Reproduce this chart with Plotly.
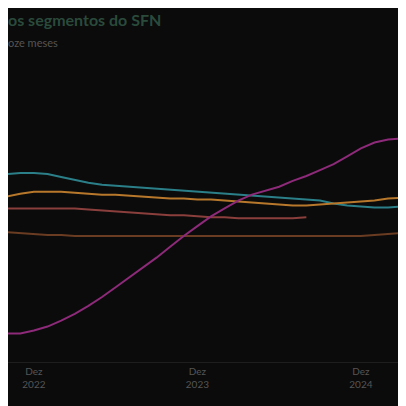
import plotly.graph_objects as go

meses = ["Out 2022","Nov 2022","Dez 2022","Jan 2023","Fev 2023","Mar 2023","Abr 2023","Mai 2023","Jun 2023","Jul 2023","Ago 2023","Set 2023","Out 2023","Nov 2023","Dez 2023","Jan 2024","Fev 2024","Mar 2024","Abr 2024","Mai 2024","Jun 2024","Jul 2024","Ago 2024","Set 2024","Out 2024","Nov 2024","Dez 2024","Jan 2025","Fev 2025","Mar 2025","Abr 2025"]
tick_vals = ["Dez 2022","Dez 2023","Dez 2024"]
tick_text = ["Dez<br>2022","Dez<br>2023","Dez<br>2024"]

teal = [19.1,19.2,19.2,19.1,18.8,18.5,18.2,18.0,17.9,17.8,17.7,17.6,17.5,17.4,17.3,17.2,17.1,17.0,16.9,16.8,16.7,16.6,16.5,16.4,16.1,15.9,15.8,15.7,15.7,15.8,15.8]
orange = [16.8,17.1,17.3,17.3,17.3,17.2,17.1,17.0,17.0,16.9,16.8,16.7,16.6,16.6,16.5,16.5,16.4,16.3,16.2,16.1,16.0,15.9,15.9,16.0,16.1,16.2,16.3,16.4,16.6,16.7,16.8]
salmon = [15.6,15.6,15.6,15.6,15.6,15.6,15.5,15.4,15.3,15.2,15.1,15.0,14.9,14.9,14.8,14.7,14.7,14.6,14.6,14.6,14.6,14.6,14.7]
brown = [13.2,13.1,13.0,12.9,12.9,12.8,12.8,12.8,12.8,12.8,12.8,12.8,12.8,12.8,12.8,12.8,12.8,12.8,12.8,12.8,12.8,12.8,12.8,12.8,12.8,12.8,12.8,12.9,13.0,13.1,13.2]
magenta = [2.9,2.9,3.2,3.6,4.2,4.9,5.7,6.6,7.6,8.6,9.6,10.6,11.7,12.8,13.8,14.8,15.6,16.4,17.0,17.4,17.8,18.4,18.9,19.5,20.1,20.9,21.7,22.3,22.6,22.7,22.6]

fig = go.Figure()
series = [("Bancos", teal, "#2b7f88"), ("Cooperativas", orange, "#b8782c"),
          ("Financeiras", salmon, "#8a3f3c"), ("Outros", brown, "#6a3c22"),
          ("Fintechs", magenta, "#8d2a79")]
for name, vals, col in series:
    fig.add_trace(go.Scatter(x=meses[:len(vals)], y=vals, mode="lines", name=name,
                             line=dict(color=col, width=2)))

fig.update_layout(
    width=406, height=406, paper_bgcolor="#0b0b0b", plot_bgcolor="#0b0b0b",
    margin=dict(l=0, r=0, t=40, b=52, autoexpand=False),
    title=dict(text="<b>os segmentos do SFN</b><br><span style='font-size:11px;color:#555'>oze meses</span>",
               x=0, xanchor="left", y=0.955, font=dict(family="Lato", size=16, color="#2a4a3c")),
    xaxis=dict(type="category", tickvals=tick_vals, ticktext=tick_text, showgrid=False,
               tickfont=dict(family="Lato", size=10, color="#555"), showline=True,
               linecolor="#1e1e1e", range=[0.1, 29.9], ticks="", zeroline=False, automargin=False),
    yaxis=dict(visible=False, range=[0, 31.9]),
    legend=dict(orientation="h", x=0.08, y=-0.17, yanchor="top", font=dict(color="#333", size=10)),
)
fig.write_html("out.html")
